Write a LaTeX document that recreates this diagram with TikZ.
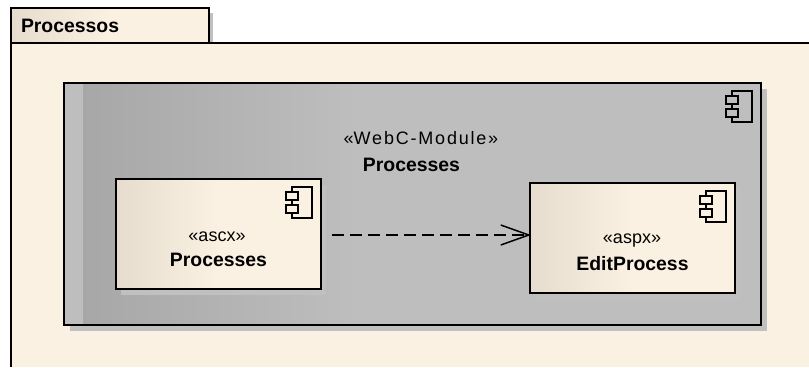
\documentclass[tikz,border=0pt]{standalone}
\usepackage{fontspec}
\setmainfont{Liberation Sans}
\usepackage{tikz}
\usetikzlibrary{arrows.meta,shadows}

\definecolor{cream}{RGB}{251,241,227}
\definecolor{shadowgray}{RGB}{192,192,192}
\definecolor{modulegray}{RGB}{190,190,190}
\pgfdeclarehorizontalshading{boxshade}{100bp}{rgb(0bp)=(.90,.865,.81); rgb(25bp)=(.90,.865,.81); rgb(50bp)=(.984,.945,.89); rgb(100bp)=(.984,.945,.89)}
\pgfdeclarehorizontalshading{moduleshade}{100bp}{rgb(0bp)=(.745,.745,.745); rgb(26.3bp)=(.745,.745,.745); rgb(26.31bp)=(.655,.655,.655); rgb(46bp)=(.745,.745,.745); rgb(100bp)=(.745,.745,.745)}

\tikzset{
  compicon/.pic={
    \draw[line width=1.5pt] (-20,0) rectangle (0,31);
    \draw[line width=1.5pt, fill=#1] (-26,5) rectangle (-14,13);
    \draw[line width=1.5pt, fill=#1] (-26,18) rectangle (-14,26);
  }
}

\begin{document}
\begin{tikzpicture}[x=1pt, y=-1pt, thick,
  tab/.style={draw, line width=2pt, inner xsep=10pt, inner ysep=0pt, minimum height=35pt, text width=178pt, align=left, shade, shading=boxshade, font=\fontsize{19.4}{22}\selectfont\bfseries, drop shadow={opacity=1, fill=shadowgray, shadow xshift=4pt, shadow yshift=-5pt}},
  module/.style={draw, line width=2pt, minimum width=697pt, minimum height=242pt, shade, shading=moduleshade, drop shadow={opacity=1, fill=shadowgray, shadow xshift=6pt, shadow yshift=-6pt}},
  part/.style={draw, line width=2pt, minimum width=205pt, minimum height=110pt, shade, shading=boxshade, drop shadow={opacity=1, fill=shadowgray, shadow xshift=5pt, shadow yshift=-6pt}},
  stereo/.style={font=\fontsize{18}{22}\selectfont, inner sep=0pt},
  title/.style={font=\fontsize{19.4}{22}\selectfont\bfseries, inner sep=0pt},
  depends/.style={-{Straight Barb[length=28pt,width=20pt]}, line width=1.5pt, dash pattern=on 12pt off 6pt, shorten >=-2pt}]

\useasboundingbox (0,0) rectangle (809,367);
\fill[white] (0,0) rectangle (809,367);

\node[tab] (processos) at (110,25.5) {Processos};

\fill[cream] (11,43) rectangle (809,367);
\draw[line width=2pt] (809,43) -- (11,43) -- (11,367);

\node[module] (processes) at (412.5,204) {};
\node[part] (ascx) at (218.5,234) {};
\node[part] (aspx) at (632.5,238) {};

\pic at (processes.north east) [shift={(-10,9)}] {compicon=modulegray};
\pic at (ascx.north east) [shift={(-10,9)}] {compicon=cream};
\pic at (aspx.north east) [shift={(-10,9)}] {compicon=cream};

\node[stereo] (webcl) at (421,138) {«\addfontfeatures{LetterSpace=10}WebC-Module»};
\node[title] (webcn) at (411.5,165) {Processes};
\node[stereo] (ascxl) at (217,237) {«ascx»};
\node[title] (ascxn) at (218.5,260) {Processes};
\node[stereo] (aspxl) at (632,241) {«aspx»};
\node[title] (aspxn) at (632.5,264) {EditProcess};

\draw[depends] ([xshift=10pt,yshift=-1pt]ascx.east) -- ([yshift=3pt]aspx.west);
\end{tikzpicture}
\end{document}
